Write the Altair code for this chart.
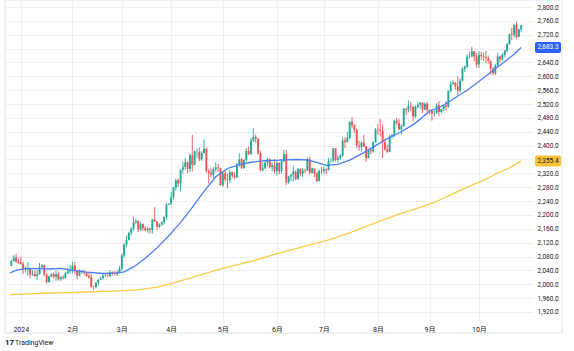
import altair as alt
import numpy as np
import pandas as pd

# ---------------- data ----------------
month_labels = ["2024", "2月", "3月", "4月", "5月", "6月", "7月", "8月", "9月", "10月"]
month_bar_counts = [22, 21, 21, 22, 23, 20, 23, 22, 21, 19]
lead_in_bars = 4  # last bars of Dec 2023 shown left of the "2024" line

opens = [
    2053, 2067, 2077, 2065,
    2063, 2059, 2042, 2043, 2045, 2028, 2030, 2024, 2029, 2049, 2055, 2028, 2006, 2023, 2029, 2022, 2029, 2014, 2021, 2018, 2032, 2037,
    2039, 2054, 2039, 2025, 2035, 2035, 2034, 2024, 2020, 1993, 1992, 2004, 2013, 2017, 2024, 2025, 2024, 2035, 2031, 2030, 2034,
    2044, 2083, 2114, 2128, 2148, 2160, 2179, 2182, 2158, 2174, 2162, 2156, 2160, 2157, 2187, 2181, 2166, 2172, 2179, 2194, 2230,
    2232, 2251, 2280, 2300, 2291, 2330, 2339, 2352, 2333, 2372, 2344, 2383, 2383, 2361, 2379, 2391, 2327, 2322, 2316, 2332, 2337, 2335,
    2286, 2320, 2303, 2301, 2323, 2314, 2309, 2346, 2360, 2336, 2358, 2385, 2376, 2414, 2425, 2420, 2378, 2329, 2334, 2351, 2361, 2338, 2343,
    2327, 2350, 2326, 2355, 2375, 2294, 2311, 2316, 2325, 2303, 2333, 2319, 2329, 2328, 2360, 2322, 2334, 2320, 2298, 2327,
    2326, 2332, 2330, 2356, 2356, 2392, 2359, 2364, 2371, 2415, 2411, 2422, 2469, 2459, 2445, 2400, 2396, 2409, 2397, 2364, 2387, 2384, 2410,
    2447, 2446, 2443, 2410, 2390, 2382, 2427, 2431, 2472, 2465, 2447, 2456, 2507, 2504, 2514, 2512, 2484, 2512, 2518, 2524, 2504, 2521,
    2503, 2500, 2493, 2495, 2516, 2497, 2506, 2516, 2512, 2558, 2578, 2582, 2570, 2559, 2587, 2622, 2628, 2657, 2657, 2672, 2658,
    2634, 2662, 2658, 2656, 2653, 2644, 2622, 2608, 2631, 2657, 2649, 2662, 2674, 2693, 2722, 2720, 2749, 2714, 2736,
]
highs = [
    2070, 2084, 2088, 2074,
    2079, 2065, 2051, 2064, 2046, 2041, 2040, 2040, 2062, 2058, 2057, 2031, 2024, 2032, 2034, 2040, 2037, 2023, 2027, 2036, 2048, 2056,
    2065, 2065, 2041, 2043, 2043, 2042, 2037, 2032, 2031, 1996, 2006, 2015, 2022, 2031, 2033, 2035, 2041, 2037, 2039, 2039, 2053,
    2088, 2119, 2141, 2152, 2165, 2195, 2189, 2185, 2180, 2176, 2168, 2165, 2163, 2188, 2223, 2183, 2176, 2182, 2196, 2236, 2234,
    2266, 2281, 2305, 2305, 2331, 2354, 2365, 2355, 2378, 2431, 2386, 2392, 2395, 2385, 2418, 2394, 2333, 2336, 2338, 2353, 2347, 2336,
    2326, 2327, 2319, 2331, 2326, 2324, 2351, 2378, 2364, 2360, 2393, 2398, 2422, 2450, 2432, 2422, 2385, 2351, 2358, 2364, 2363, 2351, 2361,
    2355, 2352, 2360, 2388, 2387, 2313, 2318, 2342, 2328, 2335, 2334, 2336, 2334, 2365, 2368, 2337, 2335, 2324, 2331, 2339,
    2339, 2335, 2365, 2363, 2392, 2393, 2372, 2376, 2424, 2424, 2440, 2470, 2483, 2462, 2449, 2414, 2412, 2431, 2399, 2390, 2393, 2413, 2451,
    2462, 2477, 2461, 2421, 2403, 2431, 2434, 2475, 2480, 2478, 2462, 2508, 2509, 2531, 2527, 2514, 2516, 2527, 2526, 2525, 2524, 2526,
    2505, 2504, 2503, 2523, 2529, 2507, 2519, 2529, 2560, 2586, 2589, 2584, 2600, 2594, 2626, 2631, 2664, 2670, 2685, 2674, 2667,
    2673, 2671, 2669, 2673, 2660, 2646, 2626, 2636, 2669, 2660, 2667, 2677, 2696, 2723, 2740, 2749, 2758, 2737, 2748,
]
lows = [
    2052, 2065, 2062, 2058,
    2057, 2030, 2034, 2024, 2017, 2024, 2021, 2013, 2028, 2048, 2023, 2002, 2005, 2021, 2016, 2010, 2011, 2009, 2013, 2016, 2029, 2030,
    2031, 2030, 2014, 2023, 2030, 2025, 2021, 2016, 1990, 1984, 1988, 1996, 2012, 2014, 2021, 2020, 2020, 2025, 2025, 2024, 2032,
    2039, 2076, 2107, 2126, 2141, 2154, 2174, 2150, 2155, 2154, 2153, 2149, 2146, 2146, 2180, 2157, 2162, 2169, 2172, 2186, 2228,
    2228, 2244, 2270, 2280, 2268, 2319, 2330, 2320, 2325, 2325, 2343, 2365, 2355, 2356, 2378, 2322, 2291, 2308, 2305, 2325, 2325, 2285,
    2281, 2295, 2277, 2291, 2306, 2303, 2306, 2338, 2332, 2333, 2353, 2372, 2373, 2410, 2408, 2374, 2326, 2325, 2332, 2341, 2335, 2325, 2320,
    2314, 2316, 2319, 2352, 2286, 2290, 2298, 2296, 2300, 2303, 2311, 2310, 2320, 2327, 2316, 2319, 2309, 2294, 2297, 2319,
    2318, 2319, 2328, 2351, 2353, 2353, 2351, 2358, 2367, 2393, 2408, 2418, 2451, 2437, 2393, 2385, 2383, 2396, 2353, 2364, 2375, 2380, 2409,
    2432, 2427, 2364, 2385, 2378, 2381, 2420, 2425, 2459, 2444, 2432, 2454, 2488, 2496, 2499, 2470, 2480, 2507, 2507, 2494, 2502, 2492,
    2490, 2472, 2484, 2491, 2485, 2492, 2500, 2500, 2510, 2553, 2575, 2562, 2546, 2553, 2585, 2612, 2624, 2651, 2655, 2644, 2625,
    2624, 2647, 2644, 2638, 2637, 2605, 2603, 2603, 2627, 2640, 2645, 2654, 2669, 2691, 2704, 2712, 2708, 2713, 2727,
]
closes = [
    2067, 2077, 2065, 2062,
    2059, 2042, 2043, 2045, 2028, 2030, 2024, 2029, 2049, 2055, 2028, 2006, 2023, 2029, 2022, 2029, 2014, 2021, 2018, 2032, 2037, 2039,
    2054, 2039, 2025, 2035, 2035, 2034, 2024, 2020, 1993, 1992, 2004, 2013, 2017, 2024, 2025, 2024, 2035, 2031, 2030, 2034, 2044,
    2083, 2114, 2128, 2148, 2160, 2179, 2182, 2158, 2174, 2162, 2156, 2160, 2157, 2187, 2181, 2166, 2172, 2179, 2194, 2230, 2232,
    2251, 2280, 2300, 2291, 2330, 2339, 2352, 2333, 2372, 2344, 2383, 2383, 2361, 2379, 2391, 2327, 2322, 2316, 2332, 2337, 2335, 2286,
    2320, 2303, 2301, 2323, 2314, 2309, 2346, 2360, 2336, 2358, 2385, 2376, 2414, 2425, 2420, 2378, 2329, 2334, 2351, 2361, 2338, 2343, 2327,
    2350, 2326, 2355, 2375, 2294, 2311, 2316, 2325, 2303, 2333, 2319, 2329, 2328, 2360, 2322, 2334, 2320, 2298, 2327, 2326,
    2332, 2330, 2356, 2356, 2392, 2359, 2364, 2371, 2415, 2411, 2422, 2469, 2459, 2445, 2400, 2396, 2409, 2397, 2364, 2387, 2384, 2410, 2447,
    2446, 2443, 2410, 2390, 2382, 2427, 2431, 2472, 2465, 2447, 2456, 2507, 2504, 2514, 2512, 2484, 2512, 2518, 2524, 2504, 2521, 2503,
    2500, 2493, 2495, 2516, 2497, 2506, 2516, 2512, 2558, 2578, 2582, 2570, 2559, 2587, 2622, 2628, 2657, 2657, 2672, 2658, 2634,
    2662, 2658, 2656, 2653, 2644, 2622, 2608, 2631, 2657, 2649, 2662, 2674, 2693, 2722, 2720, 2749, 2714, 2736, 2747,
]

# blue moving average, read at sample bars (bar index, price)
ma_fast_bar = [-4.6, -2, 2, 7, 12, 17, 22, 28, 35, 40, 44, 48, 53, 58, 63, 68, 73, 78, 83, 88, 93, 98,
               103, 110, 117, 122, 126, 130, 135, 140, 146, 151, 156, 162, 168, 174, 178, 182, 186, 190,
               195, 200, 205, 210, 213]
ma_fast_val = [2033, 2040, 2046, 2045, 2044, 2046, 2040, 2035, 2031, 2032, 2036, 2050, 2075, 2105, 2140,
               2178, 2222, 2268, 2310, 2334, 2345, 2352, 2356, 2358, 2360, 2359, 2352, 2343, 2346, 2358,
               2380, 2400, 2420, 2440, 2465, 2500, 2510, 2525, 2543, 2560, 2585, 2612, 2637, 2664, 2683.3]

# yellow moving average, read at sample bars
ma_slow_bar = [-4.6, 10, 25, 42, 50, 58, 65, 75, 86, 98, 110, 120, 131, 140, 150, 160, 170, 176, 183,
               190, 197, 203, 208, 213]
ma_slow_val = [1970, 1974, 1977, 1981, 1984, 1992, 2003, 2024, 2046, 2066, 2090, 2108, 2128, 2148, 2175,
               2200, 2222, 2236, 2258, 2280, 2300, 2321, 2336, 2355.4]

price_ticks = list(range(1920, 2801, 40))

UP, DOWN = "#26a69a", "#ef5350"
BLUE, YELLOW = "#4a7df3", "#fbcb4a"
FONT = "Roboto, 'Noto Sans CJK JP', sans-serif"

# ---------------- frames ----------------
bars = pd.DataFrame({
    "i": list(range(-lead_in_bars, len(closes) - lead_in_bars)),
    "open": opens, "high": highs, "low": lows, "close": closes,
})
bars["dir"] = np.where(bars["close"] >= bars["open"], "up", "down")

fast = pd.DataFrame({"i": ma_fast_bar, "v": ma_fast_val})
slow = pd.DataFrame({"i": ma_slow_bar, "v": ma_slow_val})

starts = [0]
for c in month_bar_counts[:-1]:
    starts.append(starts[-1] + c)

label_expr = " : ".join(f"datum.value == {s} ? '{lab}'" for s, lab in zip(starts, month_labels)) + " : ''"

xscale = alt.Scale(domain=[-4.59, 215.9], nice=False, zero=False)
yscale = alt.Scale(domain=[1891.1, 2820.2], nice=False, zero=False)

xaxis = alt.Axis(values=starts, labelExpr=label_expr, grid=True, gridColor="#eef0f4",
                 ticks=False, domain=False, labelFontSize=7, labelColor="#131722",
                 labelPadding=3, title=None, labelFont=FONT, labelOverlap=False)
yaxis = alt.Axis(orient="right", values=price_ticks, format=",.1f", grid=True, gridColor="#eef0f4",
                 ticks=False, domain=False, labelFontSize=6.5, labelColor="#131722", labelPadding=4,
                 title=None, labelFont=FONT, labelOverlap=False, labelBound=False, labelFlush=False,
                 labelExpr="datum.value == 2680 || datum.value == 2360 ? '' : datum.label")


def X(field):
    return alt.X(field, scale=xscale, axis=xaxis)


def Y(field):
    return alt.Y(field, scale=yscale, axis=yaxis)


color = alt.Color("dir:N", scale=alt.Scale(domain=["up", "down"], range=[UP, DOWN]), legend=None)

one = pd.DataFrame({"a": [0]})
frame = alt.Chart(one).mark_rect(fillOpacity=0, stroke="#e0e3eb", strokeWidth=1).encode(
    x=alt.value(0), x2=alt.value(557), y=alt.value(0), y2=alt.value(333))

wicks = alt.Chart(bars).mark_rule(strokeWidth=0.9).encode(
    x=X("i:Q"), y=Y("low:Q"), y2="high:Q", color=color)
bodies = alt.Chart(bars).mark_bar(size=1.9).encode(
    x=X("i:Q"), y=Y("open:Q"), y2="close:Q", color=color)
fast_line = alt.Chart(fast).mark_line(color=BLUE, strokeWidth=1.3).encode(x=X("i:Q"), y=Y("v:Q"))
slow_line = alt.Chart(slow).mark_line(color=YELLOW, strokeWidth=1.3).encode(x=X("i:Q"), y=Y("v:Q"))

tags = pd.DataFrame({
    "v": [ma_fast_val[-1], ma_slow_val[-1]],
    "t": [f"{ma_fast_val[-1]:,.1f}", f"{ma_slow_val[-1]:,.1f}"],
    "bg": ["blue", "yellow"],
})
tag_rect = alt.Chart(tags).mark_rect(yOffset=-5.5, y2Offset=5.5, cornerRadius=2).encode(
    x=alt.value(530), x2=alt.value(556),
    y=Y("v:Q"), y2="v:Q",
    color=alt.Color("bg:N", scale=alt.Scale(domain=["blue", "yellow"], range=["#2962ff", "#f9c23c"]), legend=None),
)
tag_text = alt.Chart(tags).mark_text(fontSize=6.5, align="center", baseline="middle", font=FONT).encode(
    x=alt.value(543), y=Y("v:Q"), text="t:N",
    color=alt.Color("bg:N", scale=alt.Scale(domain=["blue", "yellow"], range=["#ffffff", "#131722"]), legend=None),
)

logo = alt.Chart(one).mark_text(text="17", fontSize=8, fontWeight="bold", align="left",
                                baseline="middle", color="#131722", font=FONT).encode(
    x=alt.value(0), y=alt.value(343))
brand = alt.Chart(one).mark_text(text="TradingView", fontSize=7, align="left",
                                 baseline="middle", color="#131722", font=FONT).encode(
    x=alt.value(10), y=alt.value(343))

chart = alt.layer(frame, wicks, bodies, slow_line, fast_line, tag_rect, tag_text, logo, brand).resolve_scale(
    color="independent"
).properties(
    width=528, height=322,
    padding={"left": 5, "top": 0, "right": 41, "bottom": 29},
    autosize=alt.AutoSizeParams(type="none"),
    background="white",
).configure_view(stroke=None)

chart.save("out.html", embed_options={"renderer": "svg", "actions": False})
